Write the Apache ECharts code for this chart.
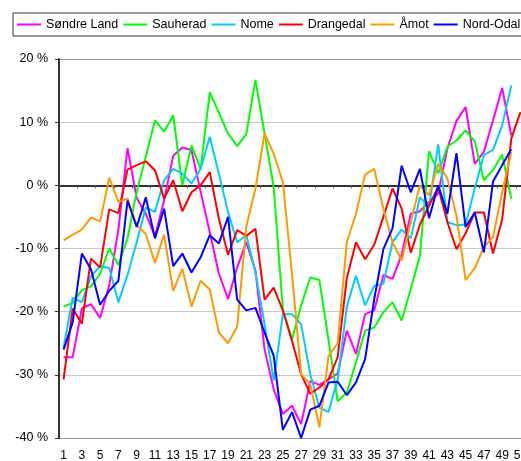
<!DOCTYPE html>
<html>
<head>
<meta charset="utf-8">
<script src="https://cdn.jsdelivr.net/npm/echarts@6/dist/echarts.min.js"></script>
<style>
    html, body { margin: 0; padding: 0; background: #fff; }
    #main { width: 521px; height: 461px; }
</style>
</head>
<body>
<div id="main"></div>
<script type="text/javascript">
    // uke 1 - 51
    var weeks = ['1', '2', '3', '4', '5', '6', '7', '8', '9', '10', '11', '12', '13', '14', '15', '16', '17',
        '18', '19', '20', '21', '22', '23', '24', '25', '26', '27', '28', '29', '30', '31', '32', '33', '34',
        '35', '36', '37', '38', '39', '40', '41', '42', '43', '44', '45', '46', '47', '48', '49', '50', '51'];

    var sondreLand = [-27.2, -27.2, -19.5, -18.8, -21, -15.8, -7, 5.9, -2, -4.5, -8.1, -2.4, 4.7, 6, 5.6, -1, -7.4,
        -14, -18, -13, -9, -13.5, -26, -32.3, -36.2, -34.9, -37.8, -31, -31.6, -30.7, -29.8, -23, -26.7, -20.4,
        -19.8, -14.2, -14.8, -11, -4.5, -4.1, -2.6, -1.3, 5.8, 10.2, 12.4, 3.4, 5.3, 10.3, 15.4, 7.9];
    var sauherad = [-19.2, -18.6, -16.6, -16, -14, -10, -12.6, -8.4, -1, 4.5, 10.3, 8.5, 11.1, 0, 6.3, 2.6, 14.7,
        11.5, 8.2, 6.2, 8.1, 16.7, 8.2, -0.3, -19.7, -24.4, -19, -14.6, -15, -24.5, -34.2, -32.8, -28, -23,
        -22.5, -20.1, -18.5, -21.4, -16.4, -11.1, 5.4, 1.9, 6.1, 7.1, 8.7, 6.9, 0.8, 2.4, 4.9, -2.1];
    var nome = [-25.7, -17.8, -18.5, -14.4, -12.8, -13.1, -18.5, -14.2, -9, -3.5, -4.2, 0.8, 2.6, 1.9, 0.3, 2.6, 7.7,
        1.8, -4.2, -9, -7.9, -13.8, -22, -30.9, -20.4, -20.4, -22, -29.9, -35.2, -35.9, -30.7, -19.2, -14.3, -19,
        -15.9, -15.6, -9, -7, -8.4, -1.9, -3.4, 6.5, -5.8, -6.3, -6.2, -0.5, 4.8, 5.6, 9.5, 15.8];
    var drangedal = [-30.7, -19.5, -21.9, -11.6, -13, -3.8, -4.4, 2.5, 3.2, 3.8, 2.4, -2.1, 0.8, -4.1, -1.1, 0, 2.1,
        -5.3, -11, -7.1, -8, -6.9, -18.1, -16.2, -19.8, -24.6, -29.9, -33, -32, -30.7, -27.2, -14.7, -9, -11.7,
        -9.4, -5, -0.5, -3.7, -10.7, -6.2, -3.2, -0.3, -5.8, -10.1, -7.6, -4.3, -4.3, -10.8, -5.4, 7.4, 11.6];
    var amot = [-8.7, -7.8, -7, -5.1, -5.7, 1.2, -2.6, -2.1, -6.3, -7.7, -12.3, -7.8, -16.7, -13.2, -19.2, -15.1, -16.5,
        -23.3, -25, -22.4, -6.5, -0.5, 8.2, 5, 0.5, -14, -29.9, -31.5, -38.3, -27, -25, -9, -4.5, 1.7,
        2.6, -3.7, -9, -11.9, -5.8, 0, -1.6, 3.4, 1.1, -4.8, -15, -13.1, -9.8, -8.2, -1.1, 5.3];
    var nordOdal = [-26, -21.7, -10.8, -13.3, -18.9, -16.7, -15.1, -2.4, -6.6, -1.9, -8.4, -3.7, -12.8, -10.8, -13.8,
        -11.4, -7.9, -9.2, -5, -18.1, -19.8, -19.4, -23.3, -27, -38.7, -35.9, -40, -35.5, -34.9, -31.2, -31.1,
        -33.2, -31.2, -27.5, -18, -10.1, -6.8, 3.1, -1.1, 2.6, -5.2, 0, -4.5, 5.1, -6.6, -4.3, -10.6, 0.6, 3.2, 5.7];

    var yTicks = [-40, -30, -20, -10, 0, 10, 20];

    var myChart = echarts.init(document.getElementById('main'));

    function serie(name, color, data) {
        return {
            name: name,
            type: 'line',
            data: data,
            symbol: 'none',
            color: color,
            lineStyle: { color: color, width: 2 }
        };
    }

    var option = {
        animation: false,
        backgroundColor: '#fff',
        textStyle: { fontFamily: 'Liberation Sans, Arial, sans-serif' },
        legend: {
            left: 13,
            top: 13,
            width: 560,
            padding: [5, 8, 5, 4],
            borderColor: '#333',
            borderWidth: 1,
            itemGap: 5,
            itemWidth: 24,
            itemHeight: 2,
            icon: 'rect',
            textStyle: { fontSize: 12.5, color: '#000', padding: [0, 0, 0, 0] },
            data: ['Søndre Land', 'Sauherad', 'Nome', 'Drangedal', 'Åmot', 'Nord-Odal']
        },
        grid: {
            left: 59,
            top: 59,
            right: -4,
            bottom: 23,
            outerBoundsMode: 'none'
        },
        xAxis: [
            {
                type: 'category',
                data: weeks,
                position: 'bottom',
                boundaryGap: true,
                axisLine: { show: false, onZero: false },
                axisTick: { show: false },
                splitLine: { show: false },
                axisLabel: { interval: 1, margin: 12, fontSize: 12, color: '#000' }
            },
            {
                type: 'category',
                data: weeks,
                position: 'top',
                boundaryGap: true,
                axisLine: { show: true, onZero: true, lineStyle: { color: '#333', width: 2 } },
                axisTick: { show: true, inside: true, length: 3, lineStyle: { color: '#555', width: 1 } },
                axisLabel: { show: false },
                splitLine: { show: false }
            }
        ],
        yAxis: {
            type: 'value',
            min: yTicks[0],
            max: yTicks[yTicks.length - 1],
            interval: 10,
            axisLine: { show: true, lineStyle: { color: '#333', width: 2 } },
            axisTick: { show: true, length: 4, lineStyle: { color: '#333' } },
            axisLabel: { formatter: '{value} %', margin: 11, fontSize: 12.5, color: '#000' },
            splitLine: {
                show: true,
                lineStyle: { color: ['#999', '#c8c8c8', '#c8c8c8', '#c8c8c8', '#c8c8c8', '#c8c8c8', '#999'], width: 1 }
            }
        },
        series: [
            serie('Søndre Land', '#ff00ff', sondreLand),
            serie('Sauherad', '#00ff00', sauherad),
            serie('Nome', '#00ccff', nome),
            serie('Drangedal', '#ff0000', drangedal),
            serie('Åmot', '#ff9900', amot),
            serie('Nord-Odal', '#0000ff', nordOdal)
        ]
    };
    myChart.setOption(option);
</script>
</body>
</html>
